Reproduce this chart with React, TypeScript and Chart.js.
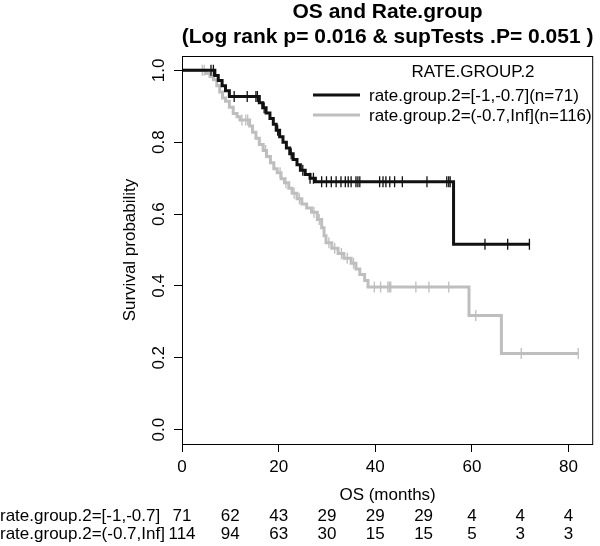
import React, { useEffect, useRef } from 'react';
import { Chart, registerables } from 'chart.js';

Chart.register(...registerables);

const FONT = '"Liberation Sans", Arial, Helvetica, sans-serif';

const TITLE_LINES = ['OS and Rate.group', '(Log rank p= 0.016 & supTests .P= 0.051 )'];
const X_TITLE = 'OS (months)';
const Y_TITLE = 'Survival probability';
const X_TICKS = [0, 20, 40, 60, 80];
const Y_TICKS = [0, 0.2, 0.4, 0.6, 0.8, 1.0];
const LEGEND_TITLE = 'RATE.GROUP.2';
const GROUP_LABELS = ['rate.group.2=[-1,-0.7](n=71)', 'rate.group.2=(-0.7,Inf](n=116)'];
const GROUP_COLORS = ['#111111', '#bebebe'];

const RISK_ROW_LABELS = ['rate.group.2=[-1,-0.7]', 'rate.group.2=(-0.7,Inf]'];
const RISK_TIMES = [0, 10, 20, 30, 40, 50, 60, 70, 80];
const RISK_LOW = [71, 62, 43, 29, 29, 29, 4, 4, 4];
const RISK_HIGH = [114, 94, 63, 30, 15, 15, 5, 3, 3];

// Group [-1,-0.7] (black)
const LOW_TIMES = [0, 6.8, 7.5, 8.3, 9.0, 9.8, 16.0, 16.7, 17.4, 18.2, 18.9, 19.5, 20.2, 20.9, 21.6, 22.3, 23.0, 23.8, 24.5, 25.5, 26.5, 27.6, 56.2];
const LOW_SURV = [1.0, 0.986, 0.972, 0.957, 0.943, 0.927, 0.910, 0.896, 0.881, 0.866, 0.850, 0.833, 0.815, 0.800, 0.784, 0.768, 0.752, 0.737, 0.722, 0.710, 0.700, 0.690, 0.516];
const LOW_END = 71.9;
const LOW_CENSOR = [6.0, 6.5, 10.8, 13.5, 15.3, 15.6, 17.0, 19.8, 22.6, 25.0, 26.5, 27.2, 28.9, 29.9, 30.9, 31.9, 32.9, 33.8, 34.4, 35.0, 36.0, 36.4, 36.8, 40.9, 41.6, 42.2, 43.0, 44.0, 45.6, 50.7, 54.8, 55.2, 55.5, 62.7, 67.4, 71.9];

// Group (-0.7,Inf] (grey)
const HIGH_TIMES = [0, 5.0, 5.8, 6.5, 7.2, 7.8, 8.4, 9.0, 9.8, 10.6, 11.4, 12.0, 14.0, 14.6, 15.3, 16.0, 16.8, 17.5, 18.3, 19.0, 19.7, 20.5, 21.2, 22.1, 22.8, 23.8, 24.8, 25.8, 26.8, 28.0, 28.9, 29.4, 29.8, 31.0, 32.3, 33.5, 35.0, 36.0, 36.8, 37.8, 38.5, 59.4, 66.1];
const HIGH_SURV = [1.0, 0.991, 0.983, 0.974, 0.957, 0.940, 0.923, 0.914, 0.897, 0.880, 0.871, 0.862, 0.845, 0.828, 0.811, 0.794, 0.777, 0.760, 0.743, 0.726, 0.715, 0.698, 0.687, 0.672, 0.658, 0.643, 0.628, 0.617, 0.605, 0.585, 0.562, 0.540, 0.520, 0.505, 0.490, 0.477, 0.463, 0.447, 0.432, 0.415, 0.397, 0.318, 0.212];
const HIGH_END = 82.0;
const HIGH_CENSOR = [4.2, 4.6, 12.4, 13.2, 13.6, 17.3, 20.3, 21.5, 23.2, 24.3, 27.3, 28.4, 30.4, 31.6, 33.0, 34.2, 35.5, 39.8, 41.1, 42.6, 42.9, 43.2, 48.4, 51.1, 55.2, 60.8, 70.2, 82.0];

function survAt(times: number[], surv: number[], t: number): number {
  let s = surv[0];
  for (let i = 0; i < times.length; i++) {
    if (times[i] <= t) s = surv[i];
  }
  return s;
}

function curvePoints(times: number[], surv: number[], end: number) {
  const pts = times.map((t, i) => ({ x: t, y: surv[i] }));
  pts.push({ x: end, y: surv[surv.length - 1] });
  return pts;
}

function censorPoints(times: number[], surv: number[], cens: number[]) {
  return cens.map((t) => ({ x: t, y: survAt(times, surv, t) }));
}

const decorPlugin = {
  id: 'decor',
  beforeDraw(chart: any) {
    const ctx = chart.ctx;
    ctx.save();
    ctx.fillStyle = '#ffffff';
    ctx.fillRect(0, 0, chart.width, chart.height);
    ctx.restore();
  },
  afterDraw(chart: any) {
    const ctx = chart.ctx;
    const a = chart.chartArea;
    const xs = chart.scales.x;
    ctx.save();
    // plot box
    ctx.strokeStyle = '#000';
    ctx.lineWidth = 1;
    ctx.strokeRect(a.left + 0.5, a.top + 0.5, a.right - a.left - 1, a.bottom - a.top);

    // title
    ctx.fillStyle = '#000';
    ctx.textAlign = 'center';
    ctx.textBaseline = 'middle';
    ctx.font = `bold 21px ${FONT}`;
    const cx = (a.left + a.right) / 2;
    ctx.fillText(TITLE_LINES[0], cx, 12);
    ctx.fillText(TITLE_LINES[1], cx, 37);

    // legend
    ctx.font = `17px ${FONT}`;
    ctx.fillText(LEGEND_TITLE, a.left + 291, a.top + 16);
    ctx.textAlign = 'left';
    GROUP_LABELS.forEach((lab, i) => {
      const y = a.top + 39 + i * 20;
      ctx.strokeStyle = GROUP_COLORS[i];
      ctx.lineWidth = 3;
      ctx.beginPath();
      ctx.moveTo(a.left + 131, y);
      ctx.lineTo(a.left + 178, y);
      ctx.stroke();
      ctx.fillStyle = '#000';
      ctx.fillText(lab, a.left + 187, y + 1);
    });

    // risk table
    const rows = [RISK_LOW, RISK_HIGH];
    rows.forEach((vals, r) => {
      const y = 516 + r * 18.5;
      ctx.textAlign = 'left';
      ctx.fillText(RISK_ROW_LABELS[r], 0, y);
      ctx.textAlign = 'center';
      vals.forEach((v, i) => {
        ctx.fillText(String(v), xs.getPixelForValue(RISK_TIMES[i]), y);
      });
    });
    ctx.restore();
  },
};

export default function App() {
  const ref = useRef<HTMLCanvasElement | null>(null);

  useEffect(() => {
    document.body.style.margin = '0';
    if (!ref.current) return;
    const chart = new Chart(ref.current, {
      type: 'line',
      data: {
        datasets: [
          {
            label: GROUP_LABELS[0],
            data: curvePoints(LOW_TIMES, LOW_SURV, LOW_END),
            borderColor: GROUP_COLORS[0],
            borderWidth: 3,
            stepped: 'before',
            pointRadius: 0,
            fill: false,
            order: 1,
          },
          {
            label: 'censor-low',
            data: censorPoints(LOW_TIMES, LOW_SURV, LOW_CENSOR),
            showLine: false,
            pointStyle: 'line',
            rotation: 90,
            pointRadius: 5.5,
            pointBorderColor: GROUP_COLORS[0],
            pointBorderWidth: 1.3,
            order: 0,
          } as any,
          {
            label: GROUP_LABELS[1],
            data: curvePoints(HIGH_TIMES, HIGH_SURV, HIGH_END),
            borderColor: GROUP_COLORS[1],
            borderWidth: 3,
            stepped: 'before',
            pointRadius: 0,
            fill: false,
            order: 3,
          },
          {
            label: 'censor-high',
            data: censorPoints(HIGH_TIMES, HIGH_SURV, HIGH_CENSOR),
            showLine: false,
            pointStyle: 'line',
            rotation: 90,
            pointRadius: 5.5,
            pointBorderColor: GROUP_COLORS[1],
            pointBorderWidth: 1.3,
            order: 2,
          } as any,
        ],
      },
      options: {
        responsive: false,
        animation: false,
        devicePixelRatio: 1,
        layout: { padding: { left: 0, right: 2, top: 56, bottom: 0 } },
        plugins: {
          legend: { display: false },
          tooltip: { enabled: false },
          title: { display: false },
        },
        scales: {
          x: {
            type: 'linear',
            min: 0,
            max: 85.1,
            afterBuildTicks: (s: any) => {
              s.ticks = X_TICKS.map((v) => ({ value: v }));
            },
            afterFit: (s: any) => {
              s.height = 102;
            },
            grid: { display: true, drawOnChartArea: false, drawTicks: true, tickLength: 8, color: '#000', lineWidth: 1 },
            border: { display: false },
            ticks: {
              color: '#000',
              font: { size: 17, family: FONT },
              padding: 5,
              maxRotation: 0,
              minRotation: 0,
              callback: (v: any) => String(v),
            },
            title: {
              display: true,
              text: X_TITLE,
              color: '#000',
              font: { size: 17, family: FONT },
              padding: { top: 0, bottom: 40 },
            },
          },
          y: {
            type: 'linear',
            min: -0.04,
            max: 1.04,
            afterBuildTicks: (s: any) => {
              s.ticks = Y_TICKS.map((v) => ({ value: v }));
            },
            afterFit: (s: any) => {
              s.width = 182;
            },
            grid: { display: true, drawOnChartArea: false, drawTicks: true, tickLength: 8, color: '#000', lineWidth: 1 },
            border: { display: false },
            ticks: {
              color: '#000',
              font: { size: 17, family: FONT },
              padding: 3,
              minRotation: 90,
              maxRotation: 90,
              crossAlign: 'center',
              callback: (v: any) => Number(v).toFixed(1),
            },
            title: {
              display: true,
              text: Y_TITLE,
              color: '#000',
              font: { size: 17, family: FONT },
              padding: { top: 120, bottom: 0 },
            },
          },
        },
      } as any,
      plugins: [decorPlugin],
    });
    return () => chart.destroy();
  }, []);

  return (
    <div style={{ width: 600, height: 546 }}>
      <canvas ref={ref} width={600} height={546} style={{ display: 'block' }} />
    </div>
  );
}
